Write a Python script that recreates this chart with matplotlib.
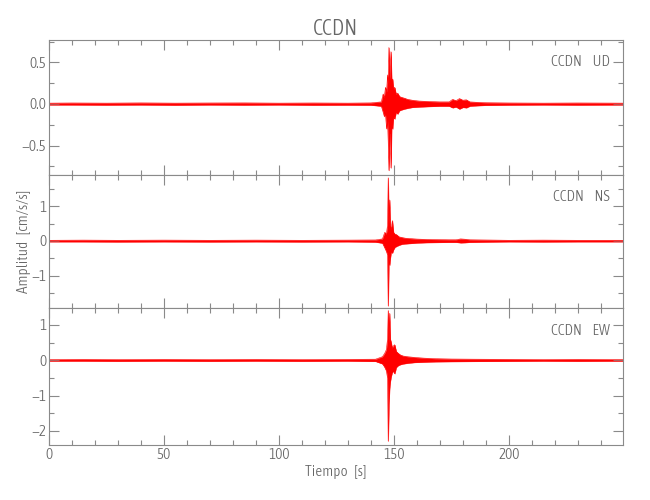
import matplotlib
matplotlib.use("Agg")
import matplotlib.pyplot as plt
from matplotlib import font_manager as fm
from matplotlib.ticker import MultipleLocator, FuncFormatter

# the reference uses a thin, narrow stroke font; take a condensed face if one is installed
def pick_font():
    cands = []
    for f in fm.fontManager.ttflist:
        narrow = f.stretch in ("condensed", "semi-condensed", "extra-condensed") \
            or "Narrow" in f.name or "Condensed" in f.name
        if narrow and "Italic" not in f.fname and "Oblique" not in f.fname:
            w = f.weight if isinstance(f.weight, int) else 400
            cands.append((abs(w - 300), f.fname))
    if cands:
        cands.sort()
        return fm.FontProperties(fname=cands[0][1])
    return fm.FontProperties(family="DejaVu Sans")

FONT = pick_font()

STATION = "CCDN"
COMPONENTS = ["UD", "NS", "EW"]

# envelope of each trace (time [s], upper and lower amplitude [cm/s/s])
t_ud = [0, 10, 25, 40, 55, 70, 85, 100, 115, 130, 140, 144.5, 145.3, 145.8, 146.3, 146.8,
        147.2, 147.5, 147.8, 148.1, 148.4, 148.7, 149.0, 149.4, 149.8, 150.3, 150.9, 151.6,
        152.4, 153.3, 154.5, 156, 158, 161, 165, 170, 174, 175.5, 177, 178.5, 180, 181.5,
        183, 186, 190, 200, 215, 230, 249.6]
hi_ud = [0.01, 0.012, 0.01, 0.013, 0.01, 0.012, 0.013, 0.01, 0.012, 0.01, 0.013, 0.025,
         0.12, 0.08, 0.2, 0.15, 0.35, 0.25, 0.68, 0.3, 0.45, 0.63, 0.28, 0.3, 0.18, 0.2,
         0.12, 0.13, 0.09, 0.08, 0.07, 0.055, 0.045, 0.035, 0.03, 0.025, 0.025, 0.055, 0.04,
         0.065, 0.045, 0.05, 0.025, 0.02, 0.015, 0.012, 0.01, 0.012, 0.01]
lo_ud = [-0.01, -0.01, -0.012, -0.01, -0.013, -0.01, -0.012, -0.01, -0.013, -0.012,
         -0.013, -0.025, -0.1, -0.15, -0.12, -0.3, -0.2, -0.45, -0.8, -0.35, -0.4, -0.77,
         -0.25, -0.3, -0.15, -0.18, -0.1, -0.12, -0.08, -0.07, -0.06, -0.05, -0.04, -0.035,
         -0.03, -0.025, -0.025, -0.045, -0.035, -0.06, -0.04, -0.045, -0.025, -0.02, -0.015,
         -0.012, -0.01, -0.012, -0.01]

t_ns = [0, 15, 30, 50, 70, 90, 110, 130, 142, 145, 146, 146.7, 147.2, 147.5, 147.8, 148.1,
        148.4, 148.8, 149.3, 149.8, 150.4, 151.2, 152.2, 153.5, 155, 157, 160, 164, 169,
        174, 177, 179, 181, 183, 188, 200, 215, 230, 249.6]
hi_ns = [0.02, 0.025, 0.02, 0.025, 0.02, 0.025, 0.02, 0.025, 0.03, 0.06, 0.25, 0.2, 0.45,
         1.83, 0.5, 1.19, 0.45, 0.35, 0.59, 0.25, 0.2, 0.18, 0.12, 0.1, 0.08, 0.07, 0.055,
         0.045, 0.04, 0.035, 0.035, 0.06, 0.05, 0.035, 0.03, 0.02, 0.025, 0.02, 0.02]
lo_ns = [-0.02, -0.02, -0.025, -0.02, -0.025, -0.02, -0.025, -0.02, -0.03, -0.06, -0.2,
         -0.3, -0.4, -1.88, -0.45, -0.7, -0.5, -0.3, -0.35, -0.25, -0.18, -0.15, -0.12,
         -0.09, -0.08, -0.07, -0.055, -0.045, -0.04, -0.035, -0.035, -0.05, -0.045, -0.035,
         -0.03, -0.02, -0.025, -0.02, -0.02]

t_ew = [0, 15, 30, 50, 70, 90, 110, 130, 142, 145, 146, 146.7, 147.2, 147.5, 147.8, 148.1,
        148.4, 148.8, 149.2, 149.7, 150.3, 151, 151.8, 152.8, 154, 156, 159, 163, 168, 175,
        185, 200, 215, 230, 249.6]
hi_ew = [0.02, 0.025, 0.02, 0.025, 0.02, 0.025, 0.02, 0.025, 0.03, 0.1, 0.2, 0.3, 0.6,
         1.41, 0.5, 1.33, 0.6, 0.5, 0.35, 0.4, 0.44, 0.25, 0.2, 0.15, 0.12, 0.1, 0.08, 0.06,
         0.045, 0.035, 0.03, 0.025, 0.02, 0.025, 0.02]
lo_ew = [-0.02, -0.02, -0.025, -0.02, -0.025, -0.02, -0.025, -0.02, -0.03, -0.1, -0.2,
         -0.3, -0.5, -2.29, -1.25, -0.8, -0.6, -0.45, -0.35, -0.3, -0.38, -0.2, -0.15,
         -0.12, -0.1, -0.08, -0.06, -0.05, -0.04, -0.035, -0.03, -0.025, -0.02, -0.025, -0.02]

traces = [(t_ud, hi_ud, lo_ud), (t_ns, hi_ns, lo_ns), (t_ew, hi_ew, lo_ew)]
y_limits = [(-0.855, 0.77), (-1.94, 1.91), (-2.4, 1.48)]
y_major = [0.5, 1, 1]
y_minor = [0.25, 0.5, 0.5]
y_fmt = ["{:.1f}", "{:g}", "{:g}"]
T_MAX = 249.6

GRAY = "#8a8a8a"
TEXT = "#666666"

fig = plt.figure(figsize=(6.5, 5), dpi=100)
# panel edges in pixels (top, bottom) from the reference
panel_px = [(40, 175), (175, 308), (308, 445)]
left, right = 49 / 650, 623 / 650

axes = []
for i, (top_px, bot_px) in enumerate(panel_px):
    ax = fig.add_axes([left, 1 - bot_px / 500, right - left, (bot_px - top_px) / 500])
    t, hi, lo = traces[i]
    ax.fill_between(t, lo, hi, color="red", linewidth=0.3)
    ax.plot(t, hi, color="red", lw=0.4)
    ax.plot(t, lo, color="red", lw=0.4)

    ax.set_xlim(0, T_MAX)
    ax.set_ylim(*y_limits[i])
    ax.xaxis.set_major_locator(MultipleLocator(50))
    ax.xaxis.set_minor_locator(MultipleLocator(10))
    ax.yaxis.set_major_locator(MultipleLocator(y_major[i]))
    ax.yaxis.set_minor_locator(MultipleLocator(y_minor[i]))
    fmt = y_fmt[i]
    ax.yaxis.set_major_formatter(
        FuncFormatter(lambda v, p, fmt=fmt: fmt.format(0.0 if abs(v) < 1e-9 else v).replace("-", "\u2212")))
    ax.tick_params(which="both", direction="in", top=True, right=True,
                   color=GRAY, labelcolor=TEXT, width=0.8, pad=2)
    ax.tick_params(which="major", length=7.5)
    ax.tick_params(which="minor", length=3.8)
    for lab in ax.get_xticklabels() + ax.get_yticklabels():
        lab.set_fontproperties(FONT)
        lab.set_fontsize(11)
    for s in ax.spines.values():
        s.set_color(GRAY)
        s.set_linewidth(0.8)
    if i < 2:
        ax.tick_params(labelbottom=False)
    ax.text(0.977, 0.835, f"{STATION}     {COMPONENTS[i]}", transform=ax.transAxes,
            ha="right", va="center", color=TEXT, fontproperties=FONT, fontsize=11)
    axes.append(ax)

axes[0].set_title(STATION, color=TEXT, fontproperties=FONT, fontsize=16, pad=3)
fig.text(24 / 650, 1 - 241 / 500, "Amplitud   [cm/s/s]", rotation=90, ha="center",
         va="center", color=TEXT, fontproperties=FONT, fontsize=11)
fig.text(336 / 650, 1 - 472 / 500, "Tiempo   [s]", ha="center", va="center",
         color=TEXT, fontproperties=FONT, fontsize=11)

fig.savefig("out.png", dpi=100)
